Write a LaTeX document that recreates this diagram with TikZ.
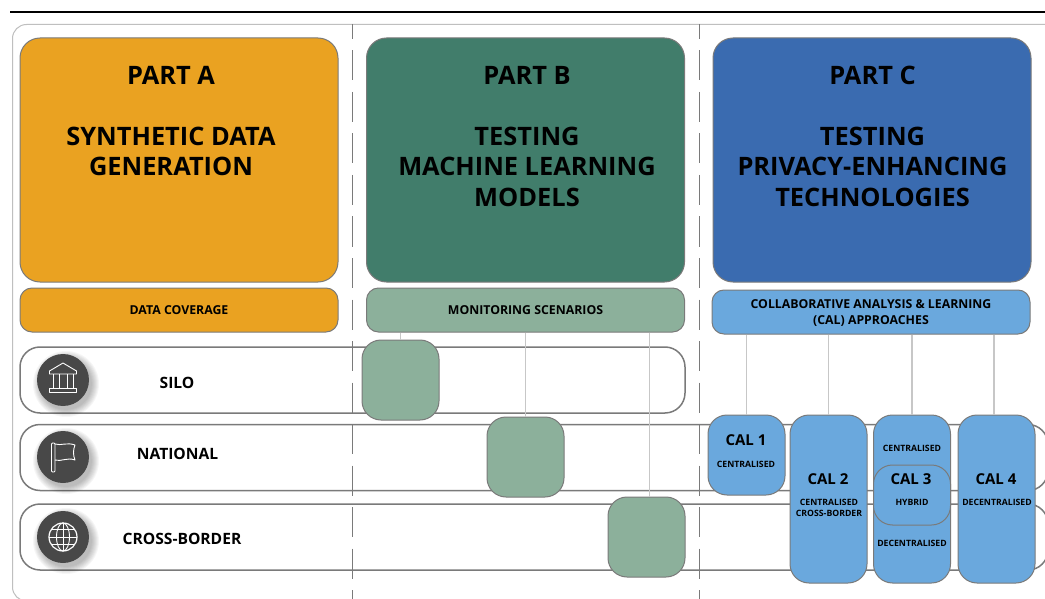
\documentclass[tikz,border=0pt]{standalone}
\usepackage{fontspec}
\setmainfont{Open Sans}
\definecolor{partAcol}{HTML}{EAA221}
\definecolor{partBcol}{HTML}{417D6B}
\definecolor{partCcol}{HTML}{3A6BB0}
\definecolor{scenecol}{HTML}{8CB09B}
\definecolor{calcol}{HTML}{6AA8DD}
\definecolor{edgecol}{HTML}{7A7A7A}
\definecolor{iconcol}{HTML}{484848}
\tikzset{
  partbox/.style={draw=edgecol, line width=1pt, rounded corners=20pt, minimum width=318pt, minimum height=244pt},
  subbox/.style={draw=edgecol, line width=1pt, rounded corners=12pt, minimum width=318pt, minimum height=44pt, font=\fontsize{12.3}{15.5}\selectfont\bfseries, align=center},
  rowbox/.style={draw=edgecol, line width=1.5pt, rounded corners=20pt},
  rowlabel/.style={font=\fontsize{15.6}{18}\selectfont\bfseries},
  headtext/.style={font=\fontsize{25.4}{30.5}\selectfont\bfseries, align=center},
  scenebox/.style={draw=edgecol, line width=1pt, fill=scenecol, rounded corners=19pt, minimum width=77pt, minimum height=80pt},
  calbox/.style={draw=edgecol, line width=1pt, fill=calcol, rounded corners=19pt, minimum width=77pt},
  calname/.style={font=\fontsize{15}{18}\selectfont\bfseries},
  calnote/.style={font=\fontsize{8.7}{11}\selectfont\bfseries, align=center},
  linkline/.style={draw=black!22, line width=1.1pt},
  iconbg/.style={circle, fill=iconcol, minimum size=52pt, inner sep=0pt},
  iconline/.style={draw=white, line width=0.9pt, line join=round}
}
\begin{document}
\begin{tikzpicture}[x=1pt,y=-1pt]
  \clip (0,0) rectangle (1045,599);
  \fill[white] (0,0) rectangle (1045,599);
  % top rule and outer frame
  \draw[line width=1.8pt] (10,12) -- (1045,12);
  \draw[black!25, line width=1pt, rounded corners=14pt] (1060,24.5) -- (12.5,24.5) -- (12.5,601) -- (1060,601);
  % rows
  \node[rowbox, minimum width=665pt, minimum height=66pt] (silo) at (352.5,380) {};
  \node[rowbox, minimum width=1028pt, minimum height=66pt] (national) at (534,457.5) {};
  \node[rowbox, minimum width=1028pt, minimum height=66pt] (crossborder) at (534,537) {};
  \node[rowlabel] (silotext) at (177,383) {SILO};
  \node[rowlabel] (nationaltext) at (177.5,454) {NATIONAL};
  \node[rowlabel] (crosstext) at (182,538.5) {CROSS-BORDER};
  % dashed separators
  \draw[edgecol, line width=1pt, dash pattern=on 30pt off 11.5pt, dash phase=15.5pt] (352,24.5) -- (352,599);
  \draw[edgecol, line width=1pt, dash pattern=on 30pt off 11.5pt, dash phase=15.5pt] (699,24.5) -- (699,599);
  % parts
  \node[partbox, fill=partAcol] (partA) at (179,160) {};
  \node[partbox, fill=partBcol] (partB) at (525.5,160) {};
  \node[partbox, fill=partCcol] (partC) at (872,160) {};
  \node[headtext] (headA) at (171,75.5) {PART A};
  \node[headtext] (headB) at (527,75.5) {PART B};
  \node[headtext] (headC) at (872.5,75.5) {PART C};
  \node[headtext] (titleA) at (171,151.5) {SYNTHETIC DATA\\GENERATION};
  \node[headtext] (titleB) at (527,166.5) {TESTING\\MACHINE LEARNING\\MODELS};
  \node[headtext] (titleC) at (872.5,166.5) {TESTING\\PRIVACY-ENHANCING\\TECHNOLOGIES};
  % sub headers
  \node[subbox, fill=partAcol, text height=9pt, text depth=0pt] (coverage) at (179,310) {DATA COVERAGE};
  \node[subbox, fill=scenecol, text height=9pt, text depth=0pt] (scenarios) at (525.5,310) {MONITORING SCENARIOS};
  \node[subbox, fill=calcol] (approaches) at (871,312) {};
  \node[font=\fontsize{12.3}{15.5}\selectfont\bfseries, align=center] (approachtext) at (871,313) {COLLABORATIVE ANALYSIS \& LEARNING\\(CAL) APPROACHES};
  % monitoring scenarios
  \node[scenebox] (sceneA) at (400.5,380) {};
  \node[scenebox] (sceneB) at (525.5,457) {};
  \node[scenebox] (sceneC) at (646.5,537) {};
  \draw[linkline] (sceneA.north |- coverage.south) -- (sceneA.north);
  \draw[linkline] (sceneB.north |- coverage.south) -- (sceneB.north);
  \draw[linkline] ([xshift=3pt]sceneC.north |- coverage.south) -- ([xshift=3pt]sceneC.north);
  % CAL boxes
  \node[calbox, minimum height=80pt] (calA) at (746.5,455) {};
  \node[calbox, minimum height=168pt] (calB) at (828.5,499) {};
  \node[calbox, minimum height=168pt] (calC) at (912,499) {};
  \node[calbox, minimum height=60pt] (calhybrid) at (912,495) {};
  \node[calbox, minimum height=168pt] (calD) at (996.5,499) {};
  \draw[linkline] (calA.north |- approaches.south) -- (calA.north);
  \draw[linkline] (calB.north |- approaches.south) -- (calB.north);
  \draw[linkline] (calC.north |- approaches.south) -- (calC.north);
  \draw[linkline] ([xshift=-2.5pt]calD.north |- approaches.south) -- ([xshift=-2.5pt]calD.north);
  \node[calname] (nameA) at (746,440) {CAL 1};
  \node[calnote] (noteA) at (746,464) {CENTRALISED};
  \node[calname] (nameB) at (828,479) {CAL 2};
  \node[calnote] (noteB) at (829,507.5) {CENTRALISED\\CROSS-BORDER};
  \node[calnote] (noteCtop) at (912,448.5) {CENTRALISED};
  \node[calname] (nameC) at (911,479) {CAL 3};
  \node[calnote] (noteChyb) at (912,502) {HYBRID};
  \node[calnote] (noteCbot) at (912,543) {DECENTRALISED};
  \node[calname] (nameD) at (996,479) {CAL 4};
  \node[calnote] (noteD) at (997,502) {DECENTRALISED};
  % icon shadows
  \foreach \r in {26,27,...,33}{
    \fill[black, opacity=0.035] (66,384) circle (\r);
    \fill[black, opacity=0.035] (66,461) circle (\r);
    \fill[black, opacity=0.035] (66,541) circle (\r);
  }
  \node[iconbg] (iconsilo) at (63,380) {};
  \node[iconbg] (iconnational) at (63,457) {};
  \node[iconbg] (iconcross) at (63,537) {};
  % bank
  \begin{scope}[shift={(iconsilo.center)}]
    \draw[iconline] (-13.5,-9) -- (0,-17) -- (13.5,-9) -- (13.5,-6) -- (-13.5,-6) -- cycle;
    \foreach \x in {-10,-4,4,10}
      \draw[iconline] (\x,-6) -- (\x,8);
    \draw[iconline] (-13.5,8.5) rectangle (13.5,12);
  \end{scope}
  % flag
  \begin{scope}[shift={(iconnational.center)}]
    \draw[iconline, rounded corners=1pt] (-11.5,-14) rectangle (-8,15);
    \draw[iconline] (-8,-13) .. controls (-2,-11) and (4,-15) .. (12,-12) .. controls (10,-7) and (10,-2) .. (12,3) .. controls (4,0) and (-2,5) .. (-8,3);
  \end{scope}
  % globe
  \begin{scope}[shift={(iconcross.center)}]
    \draw[iconline, line width=1.2pt] (0,0) circle (14);
    \draw[iconline] (0,0) ellipse (6.5 and 14);
    \draw[iconline] (0,-14) -- (0,14);
    \draw[iconline] (-14,0) -- (14,0);
    \draw[iconline] (-11.5,-7.5) -- (11.5,-7.5);
    \draw[iconline] (-11.5,7.5) -- (11.5,7.5);
  \end{scope}
\end{tikzpicture}
\end{document}
